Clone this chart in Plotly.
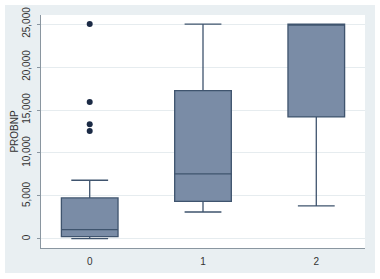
import plotly.graph_objects as go

groups = ["0", "1", "2"]
q1 = [270, 4380, 14190]
median = [1080, 7560, 25000]
q3 = [4770, 17250, 25000]
lower_whisker = [30, 3140, 3840]
upper_whisker = [6830, 25000, 25000]

outlier_group = ["0", "0", "0", "0"]
outlier_values = [25000, 15930, 13340, 12560]

tick_vals = [0, 5000, 10000, 15000, 20000, 25000]
tick_text = ["0", "5,000", "10,000", "15,000", "20,000", "25,000"]

fig = go.Figure()
fig.add_trace(go.Box(
    x=groups, q1=q1, median=median, q3=q3,
    lowerfence=lower_whisker, upperfence=upper_whisker,
    width=0.5, whiskerwidth=0.65,
    fillcolor="#7a8ca6",
    line=dict(color="#3f546e", width=1.3),
    boxpoints=False, showlegend=False, hoverinfo="skip",
))
fig.add_trace(go.Scatter(
    x=outlier_group, y=outlier_values, mode="markers",
    marker=dict(color="#1b2a45", size=6),
    showlegend=False, hoverinfo="skip",
))

# thin white border around the light outer panel
W, H = 380, 279
L, R, T, B = 41, 15, 15, 31
pw, ph = W - L - R, H - T - B
def px(x):
    return (x - L) / pw
def py(y):
    return (H - B - y) / ph
for (x0, y0, x1, y1) in [(0, 0, 5, H), (375, 0, W, H), (0, 0, W, 5), (0, 273, W, H)]:
    fig.add_shape(type="rect", xref="paper", yref="paper",
                  x0=px(x0), x1=px(x1), y0=py(y1), y1=py(y0),
                  fillcolor="white", line=dict(width=0), layer="above")

fig.update_layout(
    width=W, height=H,
    margin=dict(l=L, r=R, t=T, b=B, autoexpand=False),
    paper_bgcolor="#e9eff2", plot_bgcolor="white",
    font=dict(family="Liberation Sans, Arial, sans-serif", size=10, color="#333333"),
)
fig.update_xaxes(
    type="category", range=[-0.43, 2.43], automargin=False,
    showgrid=False, showline=True, linecolor="#8a96a0", linewidth=1,
    ticks="", ticklabelstandoff=4,
    tickfont=dict(size=10, color="#333333"), zeroline=False,
)
fig.update_yaxes(
    range=[-1050, 26050], tickvals=tick_vals, ticktext=tick_text, automargin=False,
    tickangle=-90, showgrid=True, gridcolor="#e6ecef", gridwidth=1,
    showline=True, linecolor="#8a96a0", linewidth=1,
    ticks="outside", ticklen=3, tickcolor="#8a96a0", ticklabelstandoff=3,
    tickfont=dict(size=10, color="#333333"), zeroline=False,
    title=dict(text="PROBNP", font=dict(size=10, color="#333333"), standoff=0),
)

fig.write_html("out.html", config={"displayModeBar": False},
               post_script="document.body.style.margin='0';")
